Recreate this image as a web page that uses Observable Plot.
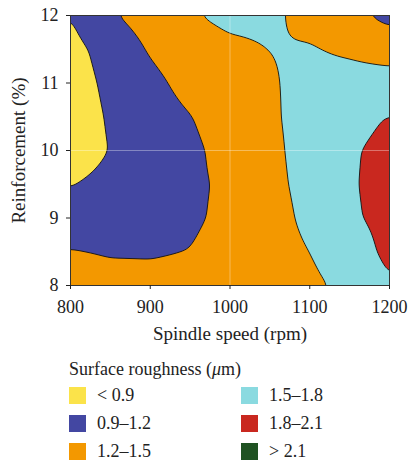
<!DOCTYPE html>
<html>
<head>
<meta charset="utf-8">
<script src="https://cdn.jsdelivr.net/npm/d3@7"></script>
<script src="https://cdn.jsdelivr.net/npm/@observablehq/plot@0.6"></script>
<style>
  html, body { margin: 0; padding: 0; background: #fff; }
  #wrap { position: relative; width: 409px; height: 464px; font-family: "Liberation Serif", "DejaVu Serif", serif; color: #222; }
  #legend-title { position: absolute; left: 69px; top: 359px; font-size: 18px; line-height: 20px; }
  .item { position: absolute; font-size: 18px; line-height: 17px; }
  .sw { position: absolute; left: 0; top: 0; width: 17px; height: 17px; }
  .lab { position: absolute; left: 28px; top: 0; white-space: nowrap; }
</style>
</head>
<body>
<div id="wrap"></div>
<script>
// Spindle speed (rpm) grid columns
const speed = [800, 850, 900, 950, 1000, 1050, 1100, 1150, 1200];
// Reinforcement (%) grid rows
const reinforcement = [8, 8.5, 9, 9.5, 10, 10.5, 11, 11.5, 12];
// Surface roughness (µm), one row per reinforcement value
const roughness8   = [1.30, 1.29, 1.27, 1.28, 1.34, 1.41, 1.45, 1.56, 1.77];
const roughness8_5 = [1.22, 1.18, 1.18, 1.205, 1.30, 1.40, 1.50, 1.65, 1.87];
const roughness9   = [1.00, 1.03, 1.08, 1.16, 1.26, 1.40, 1.56, 1.76, 1.88];
const roughness9_5 = [0.89, 0.98, 1.06, 1.15, 1.25, 1.43, 1.58, 1.77, 1.90];
const roughness10  = [0.74, 0.91, 1.04, 1.14, 1.30, 1.44, 1.60, 1.77, 1.87];
const roughness10_5= [0.75, 0.93, 1.06, 1.19, 1.35, 1.46, 1.60, 1.72, 1.81];
const roughness11  = [0.78, 0.96, 1.12, 1.30, 1.40, 1.48, 1.56, 1.60, 1.62];
const roughness11_5= [0.82, 1.00, 1.23, 1.38, 1.45, 1.503, 1.52, 1.46, 1.38];
const roughness12  = [0.90, 1.17, 1.33, 1.48, 1.56, 1.55, 1.42, 1.27, 1.12];

// Legend classes
const thresholds = [0.9, 1.2, 1.5, 1.8, 2.1];
const classLabels = ["< 0.9", "0.9–1.2", "1.2–1.5", "1.5–1.8", "1.8–2.1", "> 2.1"];
const classColors = ["#fbe34a", "#4347a2", "#f39800", "#8adae0", "#c9281f", "#1f5222"];
const xTicks = [800, 900, 1000, 1100, 1200];
const yTicks = [8, 9, 10, 11, 12];

const grid = [roughness8, roughness8_5, roughness9, roughness9_5, roughness10,
              roughness10_5, roughness11, roughness11_5, roughness12];

// bilinear interpolation within the measured grid
function roughnessAt(x, y) {
  const nx = speed.length - 1, ny = reinforcement.length - 1;
  let i = (x - speed[0]) / (speed[1] - speed[0]);
  let j = (y - reinforcement[0]) / (reinforcement[1] - reinforcement[0]);
  i = Math.max(0, Math.min(nx, i)); j = Math.max(0, Math.min(ny, j));
  const i0 = Math.min(Math.floor(i), nx - 1), j0 = Math.min(Math.floor(j), ny - 1);
  const fx = i - i0, fy = j - j0;
  const a = grid[j0][i0], b = grid[j0][i0 + 1], c = grid[j0 + 1][i0], d = grid[j0 + 1][i0 + 1];
  return (a * (1 - fx) + b * fx) * (1 - fy) + (c * (1 - fx) + d * fx) * fy;
}

const font = "Liberation Serif, DejaVu Serif, serif";

const chart = Plot.plot({
  width: 409,
  height: 345,
  marginLeft: 70,
  marginRight: 20,
  marginTop: 15,
  marginBottom: 60,
  style: { fontFamily: font, fontSize: "18px", color: "#222", background: "transparent" },
  x: { domain: [800, 1200] },
  y: { domain: [8, 12] },
  color: { type: "threshold", domain: thresholds, range: classColors },
  marks: [
    Plot.contour({
      fill: roughnessAt,
      x1: 800, x2: 1200, y1: 8, y2: 12,
      thresholds: [0, ...thresholds],
      pixelSize: 1,
      blur: 4,
      stroke: "#111",
      strokeWidth: 0.9
    }),
    Plot.ruleX([1000], { stroke: "white", strokeOpacity: 0.35, strokeWidth: 1 }),
    Plot.ruleY([10], { stroke: "white", strokeOpacity: 0.35, strokeWidth: 1 }),
    Plot.frame({ stroke: "#333", strokeWidth: 1 }),
    Plot.axisX({ ticks: xTicks, tickFormat: d => String(d), tickSize: 4, tickPadding: 11, fontSize: 18,
                 label: null }),
    Plot.axisY({ ticks: yTicks, tickFormat: d => String(d), tickSize: 4, tickPadding: 8, fontSize: 18,
                 label: null }),
    Plot.text(["Spindle speed (rpm)"], { frameAnchor: "bottom", dy: 48, fontSize: 19, lineAnchor: "middle", textAnchor: "middle" }),
    Plot.text(["Reinforcement (%)"], { frameAnchor: "left", dx: -52, rotate: -90, fontSize: 19, lineAnchor: "middle", textAnchor: "middle" })
  ]
});

const wrap = document.getElementById("wrap");
chart.style.position = "absolute";
chart.style.left = "0px";
chart.style.top = "0px";
wrap.appendChild(chart);

const title = document.createElement("div");
title.id = "legend-title";
title.innerHTML = "Surface roughness (<i>μ</i>m)";
wrap.appendChild(title);

classLabels.forEach((lab, k) => {
  const col = Math.floor(k / 3), row = k % 3;
  const item = document.createElement("div");
  item.className = "item";
  item.style.left = (69 + col * 172) + "px";
  item.style.top = (387 + row * 28) + "px";
  const sw = document.createElement("div");
  sw.className = "sw";
  sw.style.background = classColors[k];
  const t = document.createElement("div");
  t.className = "lab";
  t.textContent = lab;
  item.appendChild(sw);
  item.appendChild(t);
  wrap.appendChild(item);
});
</script>
</body>
</html>
